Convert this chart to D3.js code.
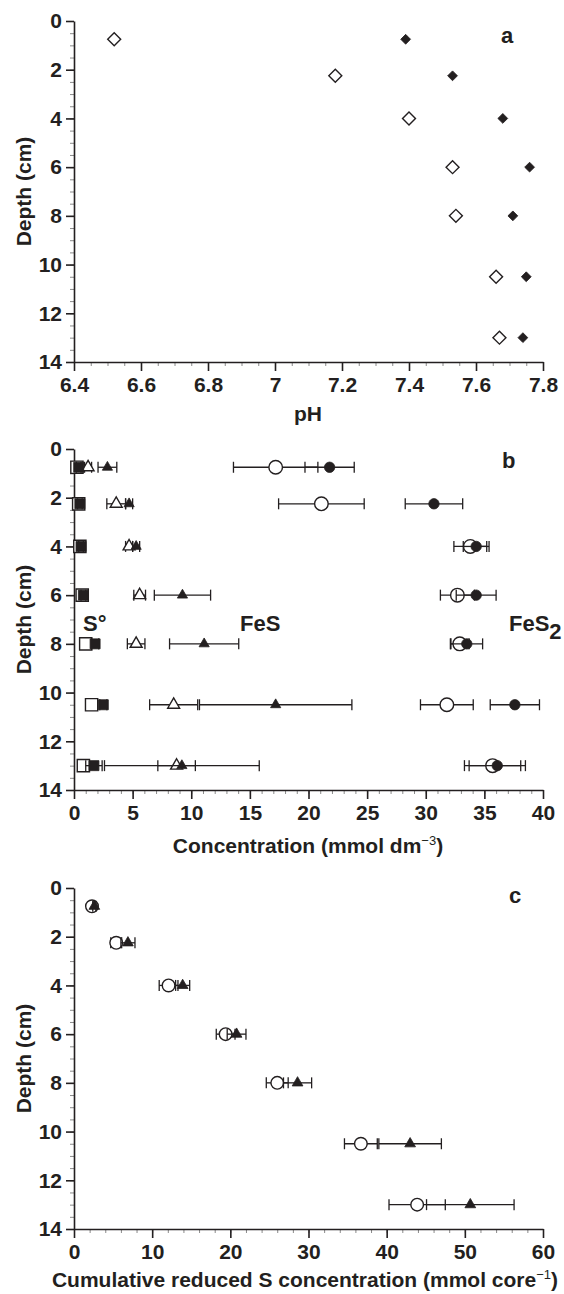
<!DOCTYPE html>
<meta charset="utf-8">
<style>
body { margin: 0; background: #fff; }
text { font-family: "Liberation Sans", Arial, sans-serif; font-weight: bold; fill: #231f20; }
.minor line { stroke: #8a8a8a; }
.major line, .major path { stroke: #231f20; stroke-width: 1.6px; }
</style>
<svg width="564" height="1294"></svg>
<script src="https://d3js.org/d3.v7.min.js"></script>
<script>

var ink = "#231f20";

// depths (cm) shared by all three panels
var depths = [0.75, 2.25, 4, 6, 8, 10.5, 13];
var depth_ticks = [0, 2, 4, 6, 8, 10, 12, 14];

// panel a: pH
var ph_ticks = [6.4, 6.6, 6.8, 7, 7.2, 7.4, 7.6, 7.8];
var ph_open = [6.52, 7.18, 7.40, 7.53, 7.54, 7.66, 7.67];
var ph_filled = [7.39, 7.53, 7.68, 7.76, 7.71, 7.75, 7.74];

// panel b: concentration (mmol dm-3)
var conc_ticks = [0, 5, 10, 15, 20, 25, 30, 35, 40];
var s_open = [0.25, 0.4, 0.5, 0.7, 1.0, 1.5, 0.8];
var s_open_err = [0.2, 0.2, 0.2, 0.2, 0.3, 0.3, 0.3];
var s_filled = [0.4, 0.5, 0.6, 0.8, 1.8, 2.5, 1.7];
var s_filled_err = [0.2, 0.2, 0.2, 0.2, 0.3, 0.3, 0.7];
var fes_open = [1.2, 3.6, 4.7, 5.6, 5.3, 8.5, 8.75];
var fes_open_err = [0.3, 0.8, 0.3, 0.5, 0.75, 2.05, 1.6];
var fes_filled = [2.85, 4.7, 5.3, 9.25, 11.1, 17.2, 9.2];
var fes_filled_err = [0.8, 0.3, 0.3, 2.4, 2.95, 6.5, 6.6];
var fes2_open = [17.2, 21.1, 33.8, 32.7, 32.9, 31.8, 35.7];
var fes2_open_err = [3.6, 3.65, 1.4, 1.45, 0.8, 2.25, 2.4];
var fes2_filled = [21.8, 30.7, 34.3, 34.3, 33.5, 37.6, 36.1];
var fes2_filled_err = [2.1, 2.45, 1.1, 1.7, 1.35, 2.1, 2.4];

// panel c: cumulative reduced S (mmol core-1)
var cum_ticks = [0, 10, 20, 30, 40, 50, 60];
var cum_open = [2.3, 5.4, 12.1, 19.4, 26.0, 36.7, 43.9];
var cum_open_err = [0.2, 0.7, 1.2, 1.2, 1.4, 2.1, 3.6];
var cum_filled = [2.6, 6.9, 13.9, 20.8, 28.6, 43.0, 50.7];
var cum_filled_err = [0.2, 0.9, 0.9, 1.2, 1.8, 4.0, 5.6];

var svg = d3.select("svg");
var x_left = 74, x_right = 543;

// draws both axes of one panel, returns the scales
function drawPanel(top, bottom, xDomain, xTicks, xMinorStep) {
  var x = d3.scaleLinear().domain(xDomain).range([x_left, x_right]);
  var y = d3.scaleLinear().domain([0, 14]).range([top, bottom]);

  // minor ticks
  svg.append("g").attr("class", "minor")
     .attr("transform", "translate(" + x_left + ",0)")
     .call(d3.axisLeft(y).tickValues(d3.range(0, 14.001, 0.5)).tickSize(4).tickFormat(""))
     .call(function(g) { g.select(".domain").remove(); });
  svg.append("g").attr("class", "minor")
     .attr("transform", "translate(0," + bottom + ")")
     .call(d3.axisBottom(x).tickValues(d3.range(xDomain[0], xDomain[1] + xMinorStep / 2, xMinorStep)).tickSize(4).tickFormat(""))
     .call(function(g) { g.select(".domain").remove(); });

  // major ticks and labels
  var ya = svg.append("g").attr("class", "major")
     .attr("transform", "translate(" + x_left + ",0)")
     .call(d3.axisLeft(y).tickValues(depth_ticks).tickSize(8).tickSizeOuter(0).tickPadding(4));
  var xa = svg.append("g").attr("class", "major")
     .attr("transform", "translate(0," + bottom + ")")
     .call(d3.axisBottom(x).tickValues(xTicks).tickSize(9).tickSizeOuter(0).tickPadding(6)
           .tickFormat(function(d) { return +d.toFixed(1); }));
  [ya, xa].forEach(function(a) {
    a.attr("font-family", null).attr("font-size", null);
    a.selectAll("text").style("font-size", "21px").attr("fill", ink);
  });

  svg.append("text")
     .attr("transform", "translate(31," + ((top + bottom) / 2) + ") rotate(-90)")
     .attr("text-anchor", "middle")
     .style("font-size", "21px")
     .text("Depth (cm)");

  return { x: x, y: y };
}

// horizontal error bars with end caps
function errorBars(s, vals, errs) {
  var g = svg.append("g").attr("stroke", ink).attr("stroke-width", 1.3).attr("fill", "none");
  depths.forEach(function(d, i) {
    var x0 = s.x(vals[i] - errs[i]), x1 = s.x(vals[i] + errs[i]), yy = s.y(d);
    g.append("line").attr("x1", x0).attr("x2", x1).attr("y1", yy).attr("y2", yy);
    g.append("line").attr("x1", x0).attr("x2", x0).attr("y1", yy - 5.5).attr("y2", yy + 5.5);
    g.append("line").attr("x1", x1).attr("x2", x1).attr("y1", yy - 5.5).attr("y2", yy + 5.5);
  });
}

function markers(s, vals, type, size, filled, rot) {
  svg.append("g").selectAll("path")
     .data(vals)
     .join("path")
     .attr("d", d3.symbol().type(type).size(size))
     .attr("transform", function(v, i) {
        return "translate(" + s.x(v) + "," + s.y(depths[i]) + ")" + (rot ? " rotate(" + rot + ")" : "");
     })
     .attr("fill", filled ? ink : "#fff")
     .attr("stroke", ink)
     .attr("stroke-width", filled ? 0.8 : 1.4);
}

// ---------- panel a ----------
var pa = drawPanel(21, 362, [6.4, 7.8], ph_ticks, 0.05);
markers(pa, ph_open, d3.symbolSquare, 84, false, 45);
markers(pa, ph_filled, d3.symbolSquare, 48, true, 45);
svg.append("text").attr("x", 308).attr("y", 421).attr("text-anchor", "middle")
   .style("font-size", "21px").text("pH");
svg.append("text").attr("x", 501).attr("y", 43).style("font-size", "22px").text("a");

// ---------- panel b ----------
var pb = drawPanel(449, 790, [0, 40], conc_ticks, 1);
errorBars(pb, s_open, s_open_err);
markers(pb, s_open, d3.symbolSquare, 150, false);
errorBars(pb, fes_open, fes_open_err);
markers(pb, fes_open, d3.symbolTriangle, 62, false);
errorBars(pb, fes2_open, fes2_open_err);
markers(pb, fes2_open, d3.symbolCircle, 145, false);
errorBars(pb, s_filled, s_filled_err);
markers(pb, s_filled, d3.symbolSquare, 100, true);
errorBars(pb, fes_filled, fes_filled_err);
markers(pb, fes_filled, d3.symbolTriangle, 45, true);
errorBars(pb, fes2_filled, fes2_filled_err);
markers(pb, fes2_filled, d3.symbolCircle, 85, true);

var xl = svg.append("text").attr("x", 308).attr("y", 853).attr("text-anchor", "middle")
   .style("font-size", "21px");
xl.append("tspan").text("Concentration (mmol dm");
xl.append("tspan").attr("dy", -8).style("font-size", "13px").style("font-weight", "normal").text("\u22123");
xl.append("tspan").attr("dy", 8).text(")");

svg.append("text").attr("x", 502).attr("y", 468).style("font-size", "22px").text("b");
svg.append("text").attr("x", 83).attr("y", 631).style("font-size", "22px").text("S\u00b0");
svg.append("text").attr("x", 240).attr("y", 631).style("font-size", "22px").text("FeS");
var fs2 = svg.append("text").attr("x", 509).attr("y", 631).style("font-size", "22px");
fs2.append("tspan").text("FeS");
fs2.append("tspan").attr("dy", 8).text("2");

// ---------- panel c ----------
var pc = drawPanel(888, 1229, [0, 60], cum_ticks, 2);
errorBars(pc, cum_open, cum_open_err);
markers(pc, cum_open, d3.symbolCircle, 125, false);
errorBars(pc, cum_filled, cum_filled_err);
markers(pc, cum_filled, d3.symbolTriangle, 50, true);

var cl = svg.append("text").attr("x", 305).attr("y", 1287).attr("text-anchor", "middle")
   .style("font-size", "21px");
cl.append("tspan").text("Cumulative reduced S concentration (mmol core");
cl.append("tspan").attr("dy", -8).style("font-size", "13px").style("font-weight", "normal").text("\u22121");
cl.append("tspan").attr("dy", 8).text(")");

svg.append("text").attr("x", 509).attr("y", 903).style("font-size", "22px").text("c");

</script>
